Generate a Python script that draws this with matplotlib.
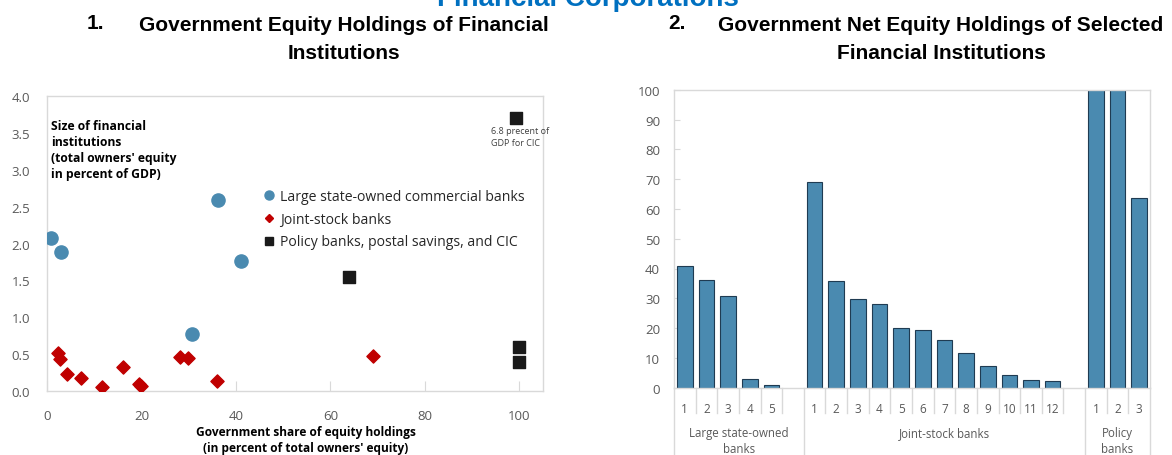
import matplotlib
matplotlib.use('Agg')
import matplotlib.pyplot as plt
import matplotlib.transforms as mtransforms
from matplotlib.lines import Line2D

# ---------------- data ----------------
# Panel 1: government share of equity (%) vs size (equity, % of GDP)
lsocb_share = [0.9, 2.9, 36.2, 41.1, 30.7]
lsocb_size = [2.08, 1.89, 2.59, 1.76, 0.77]
jsb_share = [2.3, 2.75, 4.3, 7.3, 11.7, 16.0, 19.4, 20.0, 28.2, 29.8, 35.9, 69.1]
jsb_size = [0.52, 0.43, 0.23, 0.18, 0.05, 0.33, 0.09, 0.07, 0.46, 0.45, 0.14, 0.47]
policy_share = [63.9, 100.0, 100.0, 99.2]
policy_size = [1.54, 0.59, 0.40, 3.70]   # CIC shown capped (6.8% of GDP)
series_labels = ["Large state-owned commercial banks", "Joint-stock banks",
                 "Policy banks, postal savings, and CIC"]

# Panel 2: government net equity holdings (%)
large_labels = ['1', '2', '3', '4', '5']
large_vals = [41.0, 36.1, 30.7, 2.9, 1.0]
joint_labels = ['1', '2', '3', '4', '5', '6', '7', '8', '9', '10', '11', '12']
joint_vals = [69.0, 35.8, 29.9, 28.0, 19.9, 19.3, 15.9, 11.7, 7.3, 4.4, 2.6, 2.4]
policy_labels = ['1', '2', '3']
policy_vals = [100.0, 100.0, 63.7]
group_names = ["Large state-owned\nbanks", "Joint-stock banks", "Policy\nbanks"]

# ---------------- styling ----------------
W, H = 1172, 456
fig = plt.figure(figsize=(W / 100, H / 100), dpi=100)

def fx(px):
    return px / W

def fy(py):
    return 1 - py / H

BLUE = '#4a8ab0'
RED = '#c00000'
BLACK = '#1a1a1a'
GRID = '#d9d9d9'
TICK = '#595959'
TXT = '#262626'
FONT = ['Open Sans', 'DejaVu Sans']
TFONT = ['Liberation Sans', 'DejaVu Sans']

# Blue header (cut at top, as in the source)
fig.text(fx(588), fy(6), "Financial Corporations", color='#0070c0', fontsize=20,
         fontweight='bold', family=TFONT, ha='center', va='baseline')

# Panel titles
TS = 15
fig.text(fx(87), fy(24), "1.", fontsize=TS, fontweight='bold', family=TFONT,
         ha='left', va='center', color='black')
fig.text(fx(344), fy(39.5), "Government Equity Holdings of Financial\nInstitutions",
         fontsize=TS, fontweight='bold', family=TFONT, ha='center', va='center',
         linespacing=1.62, color='black')
fig.text(fx(668), fy(24), "2.", fontsize=TS, fontweight='bold', family=TFONT,
         ha='left', va='center', color='black')
fig.text(fx(941), fy(39.5), "Government Net Equity Holdings of Selected\nFinancial Institutions",
         fontsize=TS, fontweight='bold', family=TFONT, ha='center', va='center',
         linespacing=1.62, color='black')

# ---------------- Panel 1 ----------------
ax1 = fig.add_axes([fx(47), fy(392), fx(543) - fx(47), fy(97) - fy(392)])
ax1.set_xlim(0, 105)
ax1.set_ylim(0, 4)
for s in ax1.spines.values():
    s.set_color(GRID)
    s.set_linewidth(1)
ax1.set_xticks([0, 20, 40, 60, 80, 100])
ax1.set_yticks([0, 0.5, 1.0, 1.5, 2.0, 2.5, 3.0, 3.5, 4.0])
ax1.set_yticklabels([f"{v:.1f}" for v in ax1.get_yticks()])
ax1.tick_params(axis='x', direction='in', length=7, color=GRID, labelcolor=TICK,
                labelsize=9.5, pad=13)
ax1.tick_params(axis='y', length=0, labelcolor=TICK, labelsize=9.5, pad=12)
for lab in ax1.get_xticklabels() + ax1.get_yticklabels():
    lab.set_family(FONT)

ax1.scatter(lsocb_share, lsocb_size, s=90, marker='o', color=BLUE, zorder=3,
            label=series_labels[0])
ax1.scatter(jsb_share, jsb_size, s=45, marker='D', color=RED, zorder=3,
            label=series_labels[1])
ax1.scatter(policy_share, policy_size, s=75, marker='s', color=BLACK, zorder=3,
            label=series_labels[2])

ax1.text(0.9, 3.69, "Size of financial\ninstitutions\n(total owners' equity\nin percent of GDP)",
         fontsize=8.7, fontweight='bold', family=FONT, ha='left', va='top', color='black',
         linespacing=1.3)
ax1.text(94.0, 3.60, "6.8 precent of\nGDP for CIC", fontsize=6.5, family=FONT,
         ha='left', va='top', color='#404040', linespacing=1.5)

ax1.set_xlabel("Government share of equity holdings\n(in percent of total owners' equity)",
               fontsize=8.6, fontweight='bold', family=FONT, color='black', linespacing=1.3)
ax1.xaxis.set_label_coords((306 - 47) / (543 - 47), (392 - 426) / (392 - 97))
ax1.xaxis.label.set_va('top')

handles = [
    Line2D([], [], marker='o', ls='none', color=BLUE, markersize=6.5),
    Line2D([], [], marker='D', ls='none', color=RED, markersize=4.5),
    Line2D([], [], marker='s', ls='none', color=BLACK, markersize=6),
]
leg = ax1.legend(handles, series_labels, loc='upper left', frameon=False,
                 bbox_to_anchor=(fx(263), fy(190)), bbox_transform=fig.transFigure,
                 handlelength=0.8, handletextpad=0.4, labelspacing=0.55,
                 borderaxespad=0, borderpad=0,
                 prop={'family': FONT, 'size': 10.1})
for t in leg.get_texts():
    t.set_color(TXT)

# ---------------- Panel 2 ----------------
ax2 = fig.add_axes([fx(674), fy(388.7), fx(1150) - fx(674), fy(90.7) - fy(388.7)])
group_data = [(large_labels, large_vals), (joint_labels, joint_vals),
              (policy_labels, policy_vals)]
positions, tick_labels, values, spans = [], [], [], []
start = 0
for gi, (labs, vals) in enumerate(group_data):
    p = list(range(start, start + len(labs)))
    positions += p
    tick_labels += labs
    values += vals
    end = start + len(labs) + (1 if gi < len(group_data) - 1 else 0)
    spans.append((start, end))
    start = end
total = start

ax2.bar(positions, values, width=0.72, color=BLUE, edgecolor='#1f3b52',
        linewidth=0.8, zorder=2)
ax2.set_xlim(-0.5, total - 0.5)
ax2.set_ylim(0, 100)
ax2.set_yticks(range(0, 101, 10))
ax2.set_xticks(positions)
ax2.set_xticklabels(tick_labels)
for s in ax2.spines.values():
    s.set_color(GRID)
    s.set_linewidth(1)
ax2.tick_params(axis='y', direction='in', length=4, color=GRID, labelcolor=TICK,
                labelsize=9.5, pad=10)
ax2.tick_params(axis='x', length=0, labelcolor=TICK, labelsize=8.5, pad=10)
for lab in ax2.get_xticklabels() + ax2.get_yticklabels():
    lab.set_family(FONT)

trans = mtransforms.blended_transform_factory(ax2.transData, ax2.transAxes)
ph = 388.7 - 90.7
short_y = -(414 - 388.7) / ph
long_y = -(H - 388.7) / ph
group_edges = set()
for (a, b) in spans:
    group_edges.add(a)
    group_edges.add(b)
for k in range(0, total + 1):
    y1 = long_y if k in group_edges else short_y
    ax2.plot([k - 0.5, k - 0.5], [0, y1], color=GRID, lw=1, transform=trans,
             clip_on=False, zorder=1)

for (a, b), name in zip(spans, group_names):
    ax2.text((a + b) / 2 - 0.5, (388.7 - 427) / ph, name, transform=trans,
             ha='center', va='top', fontsize=8.3, family=FONT, color=TICK,
             linespacing=1.3)

fig.savefig('out.png', dpi=100)
